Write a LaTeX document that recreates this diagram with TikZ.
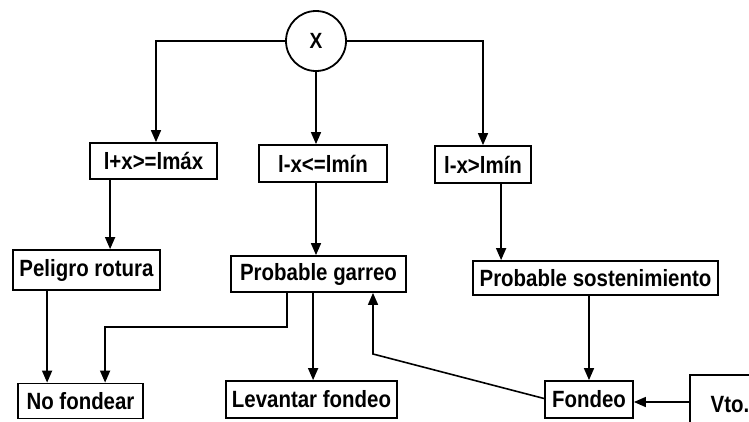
\documentclass[tikz,border=0pt]{standalone}
\usepackage{fontspec}
\setmainfont{Liberation Sans}[FakeStretch=0.87]
\usetikzlibrary{arrows.meta,calc}

\tikzset{
  box/.style={draw, line width=1.8pt, rectangle, inner sep=2pt,
              font=\fontsize{23.5}{26}\selectfont\bfseries},
  link/.style={line width=1.6pt},
  arr/.style={link, -{Triangle[length=12pt,width=10pt]}},
}

\begin{document}
\begin{tikzpicture}[x=1pt,y=-1pt]
  \useasboundingbox (0,0) rectangle (749,421);
  \clip (0,0) rectangle (749,421);
  \fill[white] (0,0) rectangle (749,421);

  % decision variable
  \node[draw, circle, line width=1.8pt, minimum size=60pt, inner sep=0pt,
        font=\fontsize{22}{24}\selectfont\bfseries] (X) at (316,41) {X};

  % condition boxes
  \node[box, minimum width=127pt, minimum height=36pt] (c1) at (153.5,161) {l+x>=lmáx};
  \node[box, minimum width=128pt, minimum height=37pt] (c2) at (323,163.5) {l-x<=lmín};
  \node[box, minimum width=96pt,  minimum height=37pt] (c3) at (483,164.5) {l-x>lmín};

  % outcomes
  \node[box, minimum width=147pt, minimum height=40pt] (pel) at (86.5,270) {Peligro rotura};
  \node[box, minimum width=175pt, minimum height=36pt] (gar) at (318.5,274) {Probable garreo};
  \node[box, minimum width=245pt, minimum height=34pt] (sos) at (595.5,278) {Probable sostenimiento};

  % actions
  \node[box, minimum width=125pt, minimum height=35pt] (nof) at (80.5,401) {No fondear};
  \node[box, minimum width=171pt, minimum height=37pt] (lev) at (311.5,399.5) {Levantar fondeo};
  \node[box, minimum width=88pt,  minimum height=37pt] (fon) at (589,399.5) {Fondeo};
  \node[box, minimum width=80pt,  minimum height=60pt] (vto) at (730,405) {Vto.};

  % from X to the three conditions
  \draw[arr] (X.west) -| (156,0 |- c1.north);
  \draw[arr] (X.south) -- (X.south |- c2.north);
  \draw[arr] (X.east) -| (c3.north);

  % from conditions to outcomes
  \coordinate (a1) at ($(c1.south west)+(21,0)$);
  \draw[arr] (a1) -- (a1 |- pel.north);
  \draw[arr] (X.south |- c2.south) -- (X.south |- gar.north);
  \coordinate (a3) at ($(c3.south west)+(67,0)$);
  \draw[arr] (a3) -- (a3 |- sos.north);

  % from outcomes to actions
  \coordinate (b1) at ($(pel.south west)+(35,0)$);
  \draw[arr] (b1) -- (b1 |- nof.north);
  \coordinate (g1) at ($(gar.south west)+(57,0)$);
  \coordinate (g2) at ($(nof.north west)+(88,0)$);
  \draw[arr] (g1) -- (g1 |- 0,327) -| (g2);
  \coordinate (g3) at ($(gar.south west)+(83,0)$);
  \draw[arr] (g3) -- (g3 |- lev.north);
  \draw[arr] (fon.north |- sos.south) -- (fon.north);

  % feedback from Fondeo to Probable garreo
  \coordinate (f1) at (373,354);
  \draw[arr] ($(fon.west)+(0,-1)$) -- (f1) -- (f1 |- gar.south);

  % Vto. into Fondeo
  \draw[arr] (vto.west |- 0,402) -- (fon.east |- 0,402);
\end{tikzpicture}
\end{document}
